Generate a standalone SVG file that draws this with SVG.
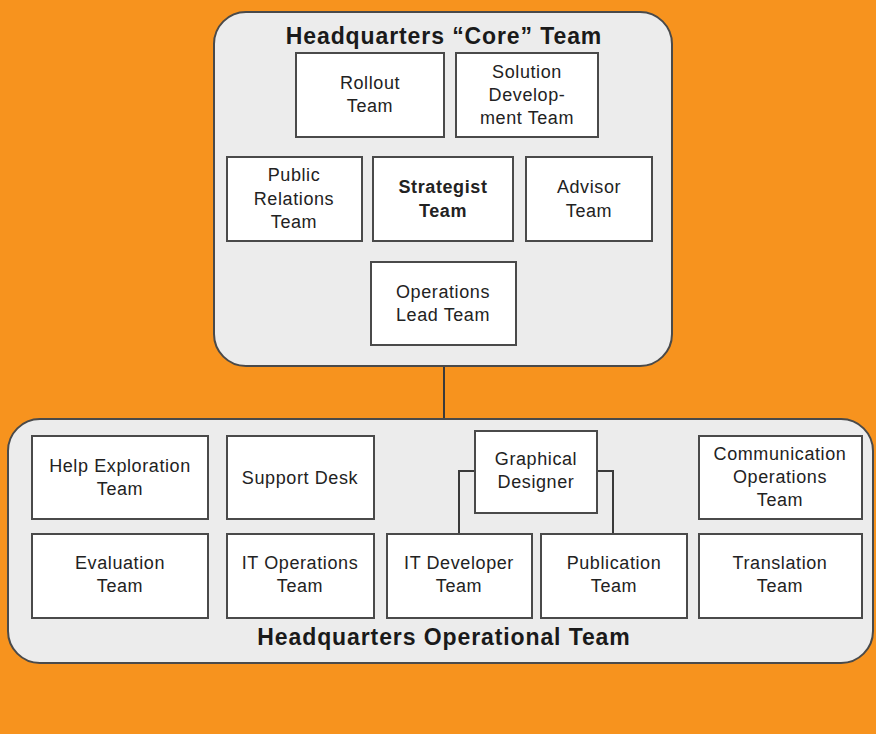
<svg xmlns="http://www.w3.org/2000/svg" width="876" height="734" viewBox="0 0 876 734">
<style>
.bg{fill:#F7931E}
.cont{fill:#ECECEC;stroke:#4a4a4a;stroke-width:2}
.box{fill:#FFFFFF;stroke:#4a4a4a;stroke-width:2}
.t{font-family:"Liberation Sans",Arial,sans-serif;font-size:18px;fill:#222;text-anchor:middle;letter-spacing:0.6px}
.b{font-weight:bold}
.title{font-family:"Liberation Sans",Arial,sans-serif;font-size:23px;font-weight:bold;fill:#1a1a1a;text-anchor:middle;letter-spacing:0.9px}
.ln{fill:none;stroke:#3a3a3a;stroke-width:2}
</style>
<rect class="bg" x="0" y="0" width="876" height="734"/>
<g id="core-team">
<rect class="cont" x="214" y="12" width="458" height="354" rx="32"/>
<text class="title" x="444" y="44">Headquarters “Core” Team</text>
</g>
<g id="operational-team">
<rect class="cont" x="8" y="419" width="865" height="244" rx="32"/>
<text class="title" x="444" y="645">Headquarters Operational Team</text>
</g>
<g id="connectors">
<line class="ln" x1="444" y1="367" x2="444" y2="418"/>
<polyline class="ln" points="475,471 459,471 459,534"/>
<polyline class="ln" points="597,471 613,471 613,534"/>
</g>
<g id="rollout"><rect class="box" x="296" y="53" width="148" height="84"/><text class="t" x="370" y="89">Rollout</text><text class="t" x="370" y="112">Team</text></g>
<g id="solution"><rect class="box" x="456" y="53" width="142" height="84"/><text class="t" x="527" y="78">Solution</text><text class="t" x="527" y="101">Develop-</text><text class="t" x="527" y="124">ment Team</text></g>
<g id="public-relations"><rect class="box" x="227" y="157" width="135" height="84"/><text class="t" x="294" y="181">Public</text><text class="t" x="294" y="205">Relations</text><text class="t" x="294" y="228">Team</text></g>
<g id="strategist"><rect class="box" x="373" y="157" width="140" height="84"/><text class="t b" x="443" y="193">Strategist</text><text class="t b" x="443" y="217">Team</text></g>
<g id="advisor"><rect class="box" x="526" y="157" width="126" height="84"/><text class="t" x="589" y="193">Advisor</text><text class="t" x="589" y="217">Team</text></g>
<g id="operations-lead"><rect class="box" x="371" y="262" width="145" height="83"/><text class="t" x="443" y="298">Operations</text><text class="t" x="443" y="321">Lead Team</text></g>
<g id="help-exploration"><rect class="box" x="32" y="436" width="176" height="83"/><text class="t" x="120" y="472">Help Exploration</text><text class="t" x="120" y="495">Team</text></g>
<g id="support-desk"><rect class="box" x="227" y="436" width="147" height="83"/><text class="t" x="300" y="484">Support Desk</text></g>
<g id="graphical-designer"><rect class="box" x="475" y="431" width="122" height="82"/><text class="t" x="536" y="465">Graphical</text><text class="t" x="536" y="488">Designer</text></g>
<g id="communication"><rect class="box" x="699" y="436" width="163" height="83"/><text class="t" x="780" y="460">Communication</text><text class="t" x="780" y="483">Operations</text><text class="t" x="780" y="506">Team</text></g>
<g id="evaluation"><rect class="box" x="32" y="534" width="176" height="84"/><text class="t" x="120" y="569">Evaluation</text><text class="t" x="120" y="592">Team</text></g>
<g id="it-operations"><rect class="box" x="227" y="534" width="147" height="84"/><text class="t" x="300" y="569">IT Operations</text><text class="t" x="300" y="592">Team</text></g>
<g id="it-developer"><rect class="box" x="387" y="534" width="145" height="84"/><text class="t" x="459" y="569">IT Developer</text><text class="t" x="459" y="592">Team</text></g>
<g id="publication"><rect class="box" x="541" y="534" width="146" height="84"/><text class="t" x="614" y="569">Publication</text><text class="t" x="614" y="592">Team</text></g>
<g id="translation"><rect class="box" x="699" y="534" width="163" height="84"/><text class="t" x="780" y="569">Translation</text><text class="t" x="780" y="592">Team</text></g>
</svg>
